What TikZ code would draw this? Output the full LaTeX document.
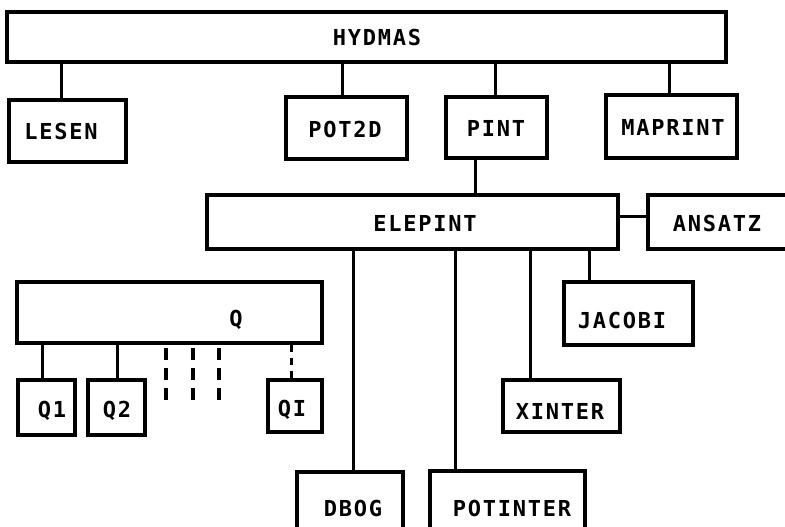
\documentclass[tikz,border=0pt]{standalone}
\usepackage{fontspec}
\newfontfamily\lblfont[LetterSpace=8]{DejaVu Sans Mono}
\usetikzlibrary{fit}
\tikzset{
  box/.style={draw, line width=3.2pt, inner sep=0pt, rectangle},
  lbl/.style={font=\lblfont\bfseries\fontsize{22}{22}\selectfont, inner sep=0pt},
  wire/.style={line width=3pt},
  dashwire/.style={line width=3.2pt, dash pattern=on 12pt off 8pt},
  dotwire/.style={line width=3pt, dash pattern=on 7pt off 6pt},
}
\begin{document}
\begin{tikzpicture}[x=1pt,y=-1pt]
\useasboundingbox (0,0) rectangle (785,527);
\clip (0,0) rectangle (785,527);
% boxes
\node[box, fit={(7,12) (726,62)}] (hydmas) {};
\node[lbl] (thydmas) at (377,37) {HYDMAS};
\node[box, fit={(9,100) (126,162)}] (lesen) {};
\node[lbl] (tlesen) at (61,131) {LESEN};
\node[box, fit={(286,97) (407,159)}] (pot2d) {};
\node[lbl] (tpot2d) at (345,129) {POT2D};
\node[box, fit={(446,97) (547,158)}] (pint) {};
\node[lbl] (tpint) at (496,128) {PINT};
\node[box, fit={(606,95) (737,158)}] (maprint) {};
\node[lbl] (tmaprint) at (673,127) {MAPRINT};
\node[box, fit={(207,195) (618,249)}] (elepint) {};
\node[lbl] (telepint) at (425,223) {ELEPINT};
\node[box, fit={(648,195) (810,249)}] (ansatz) {};
\node[lbl] (tansatz) at (717,223) {ANSATZ};
\node[box, fit={(17,282) (322,343)}] (q) {};
\node[lbl] (tq) at (236,320) {Q};
\node[box, fit={(564,282) (693,345)}] (jacobi) {};
\node[lbl] (tjacobi) at (622,320) {JACOBI};
\node[box, fit={(18,380) (75,435)}] (q1) {};
\node[lbl] (tq1) at (52,411) {Q1};
\node[box, fit={(88,380) (145,435)}] (q2) {};
\node[lbl] (tq2) at (117,411) {Q2};
\node[box, fit={(268,380) (322,432)}] (qi) {};
\node[lbl] (tqi) at (292,410) {QI};
\node[box, fit={(503,380) (620,432)}] (xinter) {};
\node[lbl] (txinter) at (560,411) {XINTER};
\node[box, fit={(297,472) (403,560)}] (dbog) {};
\node[lbl] (tdbog) at (353,508) {DBOG};
\node[box, fit={(430,471) (585,560)}] (potinter) {};
\node[lbl] (tpotinter) at (512,508) {POTINTER};
% connectors
\draw[wire] (hydmas.south -| 61,0) -- (lesen.north -| 61,0);
\draw[wire] (hydmas.south -| 342,0) -- (pot2d.north -| 342,0);
\draw[wire] (hydmas.south -| 495,0) -- (pint.north -| 495,0);
\draw[wire] (hydmas.south -| 669,0) -- (maprint.north -| 669,0);
\draw[wire] (pint.south -| 475,0) -- (elepint.north -| 475,0);
\draw[wire] (elepint.east |- 0,216) -- (ansatz.west |- 0,216);
\draw[wire] (elepint.south -| 353,0) -- (dbog.north -| 353,0);
\draw[wire] (elepint.south -| 455,0) -- (potinter.north -| 455,0);
\draw[wire] (elepint.south -| 530,0) -- (xinter.north -| 530,0);
\draw[wire] (elepint.south -| 589,0) -- (jacobi.north -| 589,0);
\draw[wire] (q.south -| 42,0) -- (q1.north -| 42,0);
\draw[wire] (q.south -| 117,0) -- (q2.north -| 117,0);
\draw[dotwire] (q.south -| 291,0) -- (qi.north -| 291,0);
% dashed marks
\draw[dashwire] (166,348) -- (166,403);
\draw[dashwire] (193,348) -- (193,403);
\draw[dashwire] (219,348) -- (219,403);
\end{tikzpicture}
\end{document}
